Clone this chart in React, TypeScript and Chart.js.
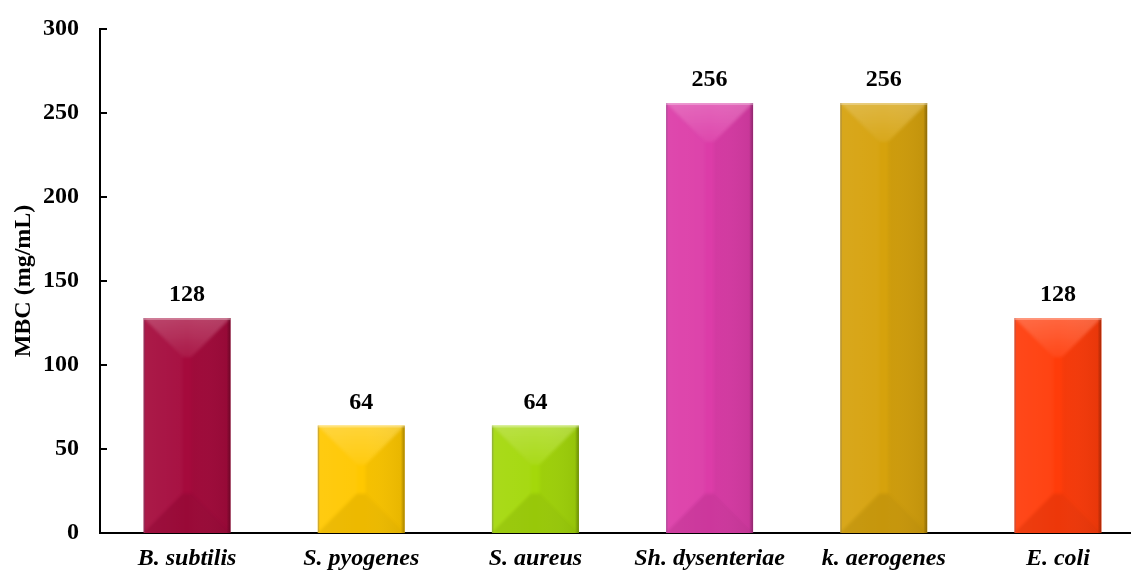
import { useEffect, useRef } from "react";
import { Chart, registerables } from "chart.js";

Chart.register(...registerables);

// Minimum bactericidal concentration per organism
const categories = ["B. subtilis", "S. pyogenes", "S. aureus", "Sh. dysenteriae", "k. aerogenes", "E. coli"];
const mbcValues = [128, 64, 64, 256, 256, 128];
const barColors = ["#A50A3C", "#FFC800", "#A4D80A", "#DC3CA8", "#D6A20C", "#FF3C0A"];
const yTickValues = [0, 50, 100, 150, 200, 250, 300];

const FONT = "'Liberation Serif', 'Times New Roman', serif";

// Soft beveled "pyramid" shading laid over each bar
const bevelPlugin = {
  id: "bevel",
  afterDatasetsDraw(chart: any) {
    const ctx = chart.ctx;
    const meta = chart.getDatasetMeta(0);
    meta.data.forEach((bar: any) => {
      const { x, y, base, width } = bar.getProps(["x", "y", "base", "width"], true);
      const L = x - width / 2;
      const R = x + width / 2;
      const T = Math.min(y, base);
      const B = Math.max(y, base);
      const h = B - T;
      const b = Math.min(width / 2, h / 2) * 0.9;
      ctx.save();
      ctx.beginPath();
      ctx.rect(L, T, width, h);
      ctx.clip();

      // horizontal light-to-dark sweep
      const hg = ctx.createLinearGradient(L, 0, R, 0);
      hg.addColorStop(0, "rgba(255,255,255,0.04)");
      hg.addColorStop(0.5, "rgba(255,255,255,0.0)");
      hg.addColorStop(1, "rgba(0,0,0,0.06)");
      ctx.fillStyle = hg;
      ctx.fillRect(L, T, width, h);

      ctx.filter = "blur(1.5px)";
      // top facet
      const tg = ctx.createLinearGradient(0, T, 0, T + b);
      tg.addColorStop(0, "rgba(255,255,255,0.22)");
      tg.addColorStop(1, "rgba(255,255,255,0.06)");
      ctx.fillStyle = tg;
      ctx.beginPath();
      ctx.moveTo(L - 4, T - 4);
      ctx.lineTo(R + 4, T - 4);
      ctx.lineTo(R, T);
      ctx.lineTo(R - b, T + b);
      ctx.lineTo(L + b, T + b);
      ctx.lineTo(L, T);
      ctx.closePath();
      ctx.fill();

      // bottom facet
      ctx.fillStyle = "rgba(0,0,0,0.07)";
      ctx.beginPath();
      ctx.moveTo(L - 4, B + 4);
      ctx.lineTo(R + 4, B + 4);
      ctx.lineTo(R, B);
      ctx.lineTo(R - b, B - b);
      ctx.lineTo(L + b, B - b);
      ctx.lineTo(L, B);
      ctx.closePath();
      ctx.fill();

      // left facet
      ctx.fillStyle = "rgba(255,255,255,0.03)";
      ctx.beginPath();
      ctx.moveTo(L, T);
      ctx.lineTo(L + b, T + b);
      ctx.lineTo(L + b, B - b);
      ctx.lineTo(L, B);
      ctx.closePath();
      ctx.fill();

      // right facet
      ctx.fillStyle = "rgba(0,0,0,0.04)";
      ctx.beginPath();
      ctx.moveTo(R, T);
      ctx.lineTo(R - b, T + b);
      ctx.lineTo(R - b, B - b);
      ctx.lineTo(R, B);
      ctx.closePath();
      ctx.fill();
      ctx.filter = "none";

      // edges
      const rg = ctx.createLinearGradient(R - 4, 0, R, 0);
      rg.addColorStop(0, "rgba(0,0,0,0)");
      rg.addColorStop(1, "rgba(0,0,0,0.3)");
      ctx.fillStyle = rg;
      ctx.fillRect(R - 4, T, 4, h);
      ctx.fillStyle = "rgba(100,100,130,0.3)";
      ctx.fillRect(L, T, 1.5, h);
      ctx.fillStyle = "rgba(255,255,255,0.3)";
      ctx.fillRect(L, T, width, 2);

      ctx.restore();
    });
  },
};

// Value labels above bars
const valueLabelPlugin = {
  id: "valueLabels",
  afterDatasetsDraw(chart: any) {
    const ctx = chart.ctx;
    const meta = chart.getDatasetMeta(0);
    const data = chart.data.datasets[0].data as number[];
    ctx.save();
    ctx.font = `bold 24px ${FONT}`;
    ctx.fillStyle = "#000";
    ctx.textAlign = "center";
    ctx.textBaseline = "middle";
    meta.data.forEach((bar: any, i: number) => {
      const { x, y } = bar.getProps(["x", "y"], true);
      ctx.fillText(String(data[i]), x, y - 23);
    });
    ctx.restore();
  },
};

// Short tick marks pointing into the plot from the y axis
const innerTicksPlugin = {
  id: "innerTicks",
  afterDraw(chart: any) {
    const ctx = chart.ctx;
    const yScale = chart.scales.y;
    const left = chart.chartArea.left;
    ctx.save();
    ctx.strokeStyle = "#000";
    ctx.lineWidth = 2;
    yScale.ticks.forEach((t: any) => {
      const py = Math.round(yScale.getPixelForValue(t.value));
      ctx.beginPath();
      ctx.moveTo(left, py);
      ctx.lineTo(left + 7, py);
      ctx.stroke();
    });
    ctx.restore();
  },
};

export default function App() {
  const canvasRef = useRef<HTMLCanvasElement>(null);

  useEffect(() => {
    document.body.style.margin = "0";
    document.body.style.overflow = "hidden";
    const canvas = canvasRef.current;
    if (!canvas) return;
    const chart = new Chart(canvas, {
      type: "bar",
      data: {
        labels: categories,
        datasets: [
          {
            data: mbcValues,
            backgroundColor: barColors,
            borderWidth: 0,
            barPercentage: 0.5,
            categoryPercentage: 1,
          },
        ],
      },
      options: {
        responsive: false,
        animation: false,
        devicePixelRatio: 1,
        layout: { padding: { top: 29, right: 0, left: 0, bottom: 0 } },
        plugins: {
          legend: { display: false },
          tooltip: { enabled: false },
        },
        scales: {
          x: {
            grid: { display: false, drawTicks: false },
            border: { display: true, color: "#000", width: 2 },
            ticks: {
              color: "#000",
              padding: 11,
              maxRotation: 0,
              autoSkip: false,
              font: { family: FONT, size: 24, weight: "bold", style: "italic" },
            },
            afterFit(scale: any) {
              scale.height = 41;
            },
          },
          y: {
            min: 0,
            max: 300,
            grid: { display: false, drawTicks: true, tickLength: 21 },
            border: { display: true, color: "#000", width: 2 },
            afterBuildTicks(scale: any) {
              scale.ticks = yTickValues.map((v) => ({ value: v }));
            },
            ticks: {
              color: "#000",
              padding: 0,
              font: { family: FONT, size: 24, weight: "bold" },
            },
            title: {
              display: true,
              text: "MBC (mg/mL)",
              color: "#000",
              padding: { top: 9, bottom: 0 },
              font: { family: FONT, size: 24, weight: "bold" },
            },
            afterFit(scale: any) {
              scale.width = 100;
            },
          },
        },
      },
      plugins: [bevelPlugin, valueLabelPlugin, innerTicksPlugin],
    });
    return () => chart.destroy();
  }, []);

  return (
    <div style={{ width: 1145, height: 574 }}>
      <canvas ref={canvasRef} width={1145} height={574} style={{ display: "block" }} />
    </div>
  );
}
